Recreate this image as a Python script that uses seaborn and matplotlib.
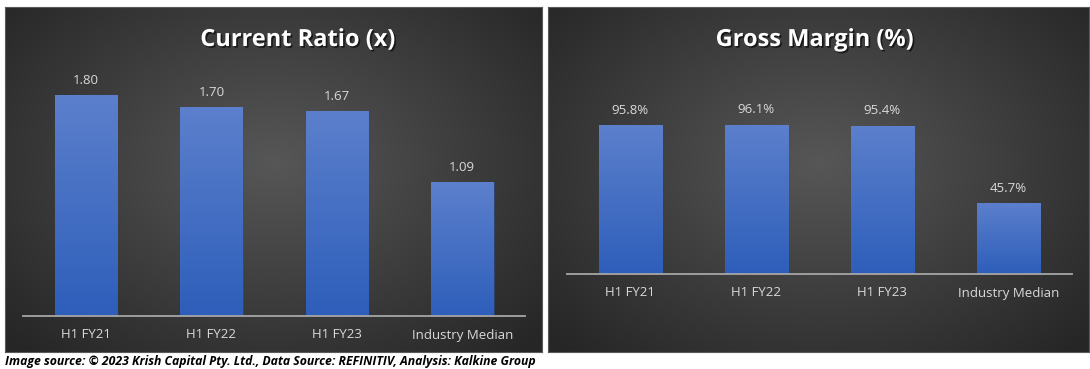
import numpy as np
import pandas as pd
import matplotlib
matplotlib.use('Agg')
import matplotlib.pyplot as plt
import matplotlib.patheffects as pe
import seaborn as sns

# === DATA ===
categories = ['H1 FY21', 'H1 FY22', 'H1 FY23', 'Industry Median']
current_ratio = [1.80, 1.70, 1.67, 1.09]
gross_margin = [95.8, 96.1, 95.4, 45.7]
footer = 'Image source: © 2023 Krish Capital Pty. Ltd., Data Source: REFINITIV, Analysis: Kalkine Group'

sns.set_theme(style='white')
plt.rcParams['font.family'] = ['Open Sans', 'DejaVu Sans']

fig = plt.figure(figsize=(10.9, 3.69), dpi=100)
fig.patch.set_facecolor('white')


def radial_bg(ax):
    # nền xám tối, sáng ở giữa
    h, w = 200, 300
    yy, xx = np.mgrid[0:h, 0:w]
    r = np.sqrt(((xx - w * 0.5) / (w * 0.5)) ** 2 + ((yy - h * 0.45) / (h * 0.55)) ** 2)
    r = np.clip(r / 1.35, 0, 1)
    v = 0.34 - 0.19 * r
    img = np.dstack([v, v, v])
    ax.imshow(img, extent=(0, 1, 0, 1), aspect='auto', zorder=0)
    ax.set_xlim(0, 1)
    ax.set_ylim(0, 1)
    ax.set_xticks([])
    ax.set_yticks([])
    for s in ax.spines.values():
        s.set_color('#5a5a5a')
        s.set_linewidth(0.8)


def gradient_bars(ax):
    top = np.array([0.36, 0.50, 0.80])
    bot = np.array([0.18, 0.37, 0.73])
    t = np.linspace(0, 1, 100)[:, None]
    grad = (top * (1 - t) + bot * t)[:, None, :]
    for p in ax.patches:
        x0, y0 = p.get_x(), p.get_y()
        w, hgt = p.get_width(), p.get_height()
        p.set_facecolor('none')
        p.set_edgecolor('#2e4f94')
        p.set_linewidth(0.4)
        im = ax.imshow(grad, extent=(x0, x0 + w, y0, y0 + hgt), aspect='auto', zorder=2)
        im.set_clip_path(p)
    ax.set_xlim(-0.5, len(categories) - 0.5)


def draw_panel(bg_rect, bar_rect, values, ymax, title, title_x, fmt):
    bg = fig.add_axes(bg_rect)
    radial_bg(bg)
    ax = fig.add_axes(bar_rect)
    ax.patch.set_alpha(0)
    df = pd.DataFrame({'cat': categories, 'val': values})
    sns.barplot(data=df, x='cat', y='val', color='#4472C4', width=0.5, ax=ax, zorder=2)
    gradient_bars(ax)
    ax.set_ylim(0, ymax)
    for i, v in enumerate(values):
        ax.annotate(fmt.format(v), (i, v), xytext=(0, 6), textcoords='offset points',
                    ha='center', va='bottom', color='#d9d9d9', fontsize=9.5)
    ax.set_xlabel('')
    ax.set_ylabel('')
    ax.set_yticks([])
    ax.tick_params(axis='x', length=0, pad=9, labelsize=9.5, colors='#d9d9d9')
    for s in ['top', 'left', 'right']:
        ax.spines[s].set_visible(False)
    ax.spines['bottom'].set_color('#a6a6a6')
    ax.spines['bottom'].set_linewidth(1.3)
    fig.text(title_x, 1 - 40 / 369, title, ha='center', va='center', color='white',
             fontsize=17, fontweight='bold',
             path_effects=[pe.withSimplePatchShadow(offset=(1.2, -1.2), shadow_rgbFace='black', alpha=0.6)])


draw_panel([5 / 1090, 1 - 352 / 369, 537 / 1090, 345 / 369],
           [23.4 / 1090, 1 - 316 / 369, 501.6 / 1090, 256 / 369],
           current_ratio, 2.085, 'Current Ratio (x)', 298 / 1090, '{:.2f}')
draw_panel([548 / 1090, 1 - 352 / 369, 541 / 1090, 345 / 369],
           [567 / 1090, 1 - 274 / 369, 504.6 / 1090, 214 / 369],
           gross_margin, 137.6, 'Gross Margin (%)', 815 / 1090, '{:.1f}%')

fig.text(5 / 1090, 1 - 361 / 369, footer, ha='left', va='center', color='black',
         fontsize=8.8, fontweight='bold', fontstyle='italic')

fig.savefig('out.png', dpi=100)
